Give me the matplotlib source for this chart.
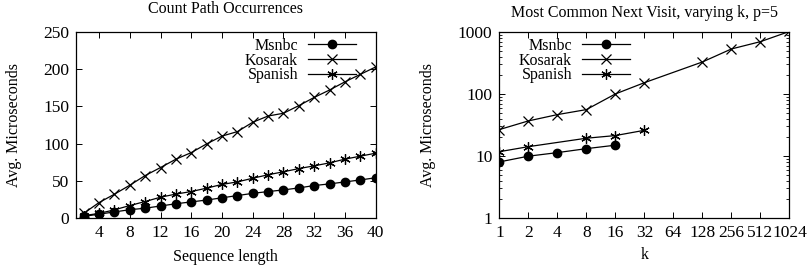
import matplotlib
matplotlib.use('Agg')
import matplotlib.pyplot as plt
from matplotlib.ticker import FixedLocator, NullFormatter, LogLocator

plt.rcParams['font.family'] = ['Liberation Serif', 'DejaVu Serif']
plt.rcParams['font.size'] = 11.5

# Count Path Occurrences
seq_len = [2, 4, 6, 8, 10, 12, 14, 16, 18, 20, 22, 24, 26, 28, 30, 32, 34, 36, 38, 40]
msnbc_cnt = [2, 5, 8, 11, 13, 16, 19, 21.5, 24, 27, 30, 33, 35.4, 37.6, 40.3, 43.5, 45.7, 48.4, 51, 54]
kosarak_cnt = [6, 20.6, 31.8, 43.9, 56.9, 67.7, 78.9, 87.8, 99.5, 110, 116, 128.6, 137, 140.7, 151, 162, 172, 183, 193, 203]
spanish_cnt = [3, 6, 10.8, 16.6, 22, 27.8, 32, 35.4, 40, 45, 48.4, 53.3, 58, 62, 66.3, 70, 74, 79, 83, 87]

# Most Common Next Visit, varying k, p=5
k_msnbc = [1, 2, 4, 8, 16]
msnbc_k = [8.0, 9.9, 11.3, 13.1, 14.9]
k_kosarak = [1, 2, 4, 8, 16, 32, 128, 256, 512, 1024]
kosarak_k = [26.6, 36.7, 46.4, 55.9, 100, 152, 328, 532, 698, 1020]
k_spanish = [1, 2, 8, 16, 32]
spanish_k = [11.7, 14.1, 19.3, 21.3, 25.9]
k_ticks = [1, 2, 4, 8, 16, 32, 64, 128, 256, 512, 1024]

fig = plt.figure(figsize=(8.08, 2.71), dpi=100)
ax1 = fig.add_axes([0.094, 0.196, 0.371, 0.686])
ax2 = fig.add_axes([0.618, 0.196, 0.359, 0.686])

style = dict(color='black', lw=0.9)

ax1.plot(seq_len, msnbc_cnt, marker='o', ms=6, label='Msnbc', **style)
ax1.plot(seq_len, kosarak_cnt, marker='x', ms=7, mew=0.9, label='Kosarak', **style)
ax1.plot(seq_len, spanish_cnt, marker=(6, 2, 0), ms=7.5, mew=0.9, label='Spanish', **style)
ax1.set_xlim(1, 40)
ax1.set_ylim(0, 250)
ax1.set_xticks(range(4, 41, 4))
ax1.set_yticks(range(0, 251, 50))
ax1.set_title('Count Path Occurrences', fontsize=11.5, y=1.055)
ax1.set_xlabel('Sequence length')
ax1.set_ylabel('Avg. Microseconds')
ax1.yaxis.set_label_coords(-0.18, 0.5)
ax1.xaxis.set_label_coords(0.5, -0.17)

ax2.plot(k_msnbc, msnbc_k, marker='o', ms=6, label='Msnbc', **style)
ax2.plot(k_kosarak, kosarak_k, marker='x', ms=7, mew=0.9, label='Kosarak', **style)
ax2.plot(k_spanish, spanish_k, marker=(6, 2, 0), ms=7.5, mew=0.9, label='Spanish', **style)
ax2.set_xscale('log', base=2)
ax2.set_yscale('log')
ax2.set_xlim(1, 1024)
ax2.set_ylim(1, 1000)
ax2.xaxis.set_major_locator(FixedLocator(k_ticks))
ax2.set_xticklabels([str(k) for k in k_ticks])
ax2.xaxis.set_minor_locator(LogLocator(base=2, subs=(1.25, 1.5, 1.75)))
ax2.xaxis.set_minor_formatter(NullFormatter())
ax2.set_yticks([1, 10, 100, 1000])
ax2.set_yticklabels(['1', '10', '100', '1000'])
ax2.yaxis.set_minor_locator(LogLocator(base=10, subs=range(2, 10)))
ax2.yaxis.set_minor_formatter(NullFormatter())
ax2.set_title('Most Common Next Visit, varying k, p=5', fontsize=11.5, y=1.035)
ax2.set_xlabel('k')
ax2.set_ylabel('Avg. Microseconds')
ax2.yaxis.set_label_coords(-0.22, 0.5)
ax2.xaxis.set_label_coords(0.5, -0.155)

for ax in (ax1, ax2):
    ax.tick_params(which='both', direction='in', top=True, right=True, labelsize=12.5)
    ax.tick_params(which='major', length=4, width=0.7, pad=5)
    ax.tick_params(which='minor', length=2, width=0.6)
    for s in ax.spines.values():
        s.set_linewidth(0.9)

leg_opts = dict(frameon=False, markerfirst=False, fontsize=11.5, handlelength=3.0,
                handletextpad=0.6, labelspacing=-0.08, borderaxespad=0.2)
ax1.legend(loc='upper right', bbox_to_anchor=(0.965, 1.02), **leg_opts)
ax2.legend(loc='upper left', bbox_to_anchor=(0.035, 1.02), **leg_opts)

fig.savefig('out.png', dpi=100)
